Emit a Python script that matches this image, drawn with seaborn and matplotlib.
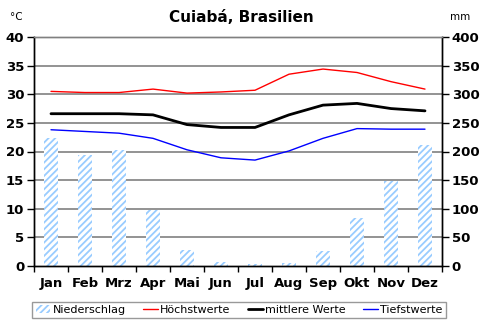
import matplotlib
matplotlib.use("Agg")
import matplotlib.pyplot as plt
import seaborn as sns
import pandas as pd
import numpy as np
from matplotlib.patches import Patch
from matplotlib.lines import Line2D

months = ["Jan", "Feb", "Mrz", "Apr", "Mai", "Jun", "Jul", "Aug", "Sep", "Okt", "Nov", "Dez"]
niederschlag = [224, 194, 203, 98, 28, 7, 4, 5, 26, 84, 149, 211]
hoechst = [30.5, 30.3, 30.3, 30.9, 30.2, 30.4, 30.7, 33.5, 34.4, 33.8, 32.2, 30.9]
mittel = [26.6, 26.6, 26.6, 26.4, 24.7, 24.2, 24.2, 26.4, 28.1, 28.4, 27.5, 27.1]
tiefst = [23.8, 23.5, 23.2, 22.3, 20.3, 18.9, 18.5, 20.1, 22.3, 24.0, 23.9, 23.9]
temp_ticks = [0, 5, 10, 15, 20, 25, 30, 35, 40]
mm_ticks = [0, 50, 100, 150, 200, 250, 300, 350, 400]

sns.set_theme(style="white")
plt.rcParams['font.family'] = ['DejaVu Sans']
plt.rcParams['text.color'] = 'black'
plt.rcParams['xtick.color'] = 'black'
plt.rcParams['ytick.color'] = 'black'
plt.rcParams['xtick.labelcolor'] = 'black'
plt.rcParams['ytick.labelcolor'] = 'black'
plt.rcParams['hatch.linewidth'] = 1.3

df = pd.DataFrame({"month": months, "pos": np.arange(12), "mm": niederschlag,
                   "max": hoechst, "mean": mittel, "min": tiefst})

fig = plt.figure(figsize=(4.82, 3.29), dpi=100)
ax = fig.add_axes([34/482, (329-266)/329, (442-34)/482, (266-37)/329])

bar_col = "#99ccff"
HATCH = "/" * 5
sns.barplot(data=df, x="month", y="mm", ax=ax, color="white", width=0.43,
            linewidth=0, order=months)
for p in ax.patches:
    p.set_hatch(HATCH)
    p.set_edgecolor(bar_col)
    p.set_facecolor("white")
    p.set_alpha(1.0)
    p.set_zorder(3)
ax.set_ylim(0, 400)
ax.set_xlim(-0.5, 11.5)
for y in mm_ticks[1:-1]:
    ax.axhline(y, color="#808080", lw=1.2, zorder=1)
ax.set_xlabel("")
ax.set_ylabel("")

ax2 = ax.twinx()
sns.lineplot(data=df, x="pos", y="max", ax=ax2, color="#ff0000", lw=1.0)
sns.lineplot(data=df, x="pos", y="mean", ax=ax2, color="black", lw=2.0)
sns.lineplot(data=df, x="pos", y="min", ax=ax2, color="#0000ff", lw=1.0)
ax2.set_ylim(0, 40)
ax2.set_xlim(-0.5, 11.5)
ax2.set_xlabel("")
ax2.set_ylabel("")

# mm axis on the right, temperature on the left
ax.yaxis.tick_right()
ax.yaxis.set_label_position("right")
ax.set_yticks(mm_ticks)
ax2.yaxis.tick_left()
ax2.yaxis.set_label_position("left")
ax2.set_yticks(temp_ticks)

ax.set_xticks(np.arange(12))
ax.set_xticklabels(months, fontsize=9.5, fontweight="bold")
ax.set_xticks(np.arange(-0.5, 12, 1), minor=True)
ax.tick_params(axis="x", which="major", length=0, pad=8)
ax.tick_params(axis="x", which="minor", length=4, width=1, color="black", direction="out", bottom=True)
ax.tick_params(axis="y", length=5, width=1, color="black", direction="out",
               left=False, labelleft=False, right=True, labelright=True, pad=2)
ax.set_yticklabels([str(v) for v in mm_ticks], fontsize=9.5, fontweight="bold")
ax2.tick_params(axis="y", length=5, width=1, color="black", direction="out",
                left=True, labelleft=True, right=False, labelright=False, pad=2)
ax2.set_yticklabels([str(v) for v in temp_ticks], fontsize=9.5, fontweight="bold")
ax2.tick_params(axis="x", bottom=False, labelbottom=False)

for a in (ax, ax2):
    a.spines["left"].set_color("black")
    a.spines["right"].set_color("black")
    a.spines["bottom"].set_color("black")
    a.spines["top"].set_color("#808080")
    for s in a.spines.values():
        s.set_linewidth(1.0)
        s.set_visible(True)
        s.set_zorder(5)

fig.text(0.5, 1 - 17/329, "Cuiabá, Brasilien", ha="center", va="center", fontsize=11, fontweight="bold")
fig.text(10/482, 1 - 17/329, "°C", ha="left", va="center", fontsize=7.5)
fig.text(450/482, 1 - 17/329, "mm", ha="left", va="center", fontsize=7.5)

handles = [Patch(facecolor="white", edgecolor=bar_col, hatch=HATCH, lw=0),
           Line2D([], [], color="#ff0000", lw=1.0),
           Line2D([], [], color="black", lw=2.0),
           Line2D([], [], color="#0000ff", lw=1.0)]
labels = ["Niederschlag", "Höchstwerte", "mittlere Werte", "Tiefstwerte"]
leg = fig.legend(handles, labels, loc="center", bbox_to_anchor=(239/482, 1 - 310/329), ncol=4,
                 frameon=True, fancybox=False, fontsize=8, handlelength=1.3, handletextpad=0.2,
                 columnspacing=1.6, borderpad=0.3, edgecolor="#808080")
leg.get_frame().set_linewidth(1.0)

fig.savefig("out.png", dpi=100)
